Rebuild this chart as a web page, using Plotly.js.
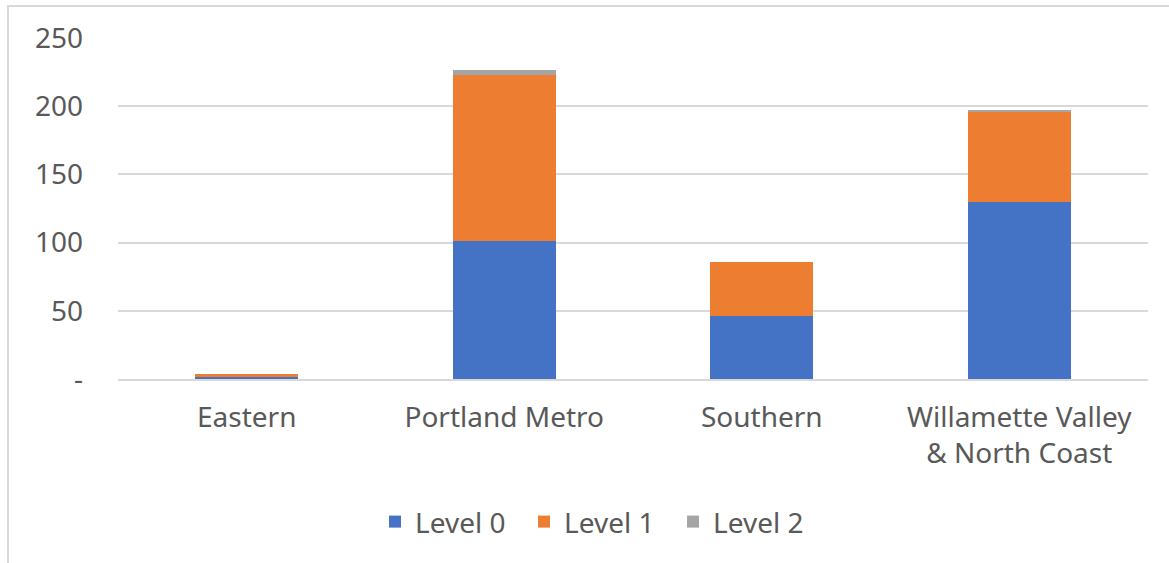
<!DOCTYPE html>
<html>
<head>
<meta charset="utf-8">
<script src="https://cdn.plot.ly/plotly-3.0.1.min.js"></script>
<style>
  html, body { margin: 0; padding: 0; background: #fff; overflow: hidden; }
  #chart { width: 1169px; height: 563px; position: relative; }
  #frame { position: absolute; left: 7px; top: 5px; width: 1170px; height: 600px;
           border-left: 2px solid #d9d9d9; border-top: 2px solid #d9d9d9; pointer-events: none; }
</style>
</head>
<body>
<div id="chart"></div>
<div id="frame"></div>
<script>
const categories = ["Eastern", "Portland Metro", "Southern", "Willamette Valley<br>& North Coast"];
const level0 = [1.5, 101, 46, 130];
const level1 = [2.2, 122, 40, 66];
const level2 = [0, 3.5, 0, 1];
const seriesNames = ["Level 0", "Level 1", "Level 2"];
const colors = ["#4472c4", "#ed7d31", "#a5a5a5"];
const yTicks = [0, 50, 100, 150, 200, 250];
const yTickText = ["-", "50", "100", "150", "200", "250"];

const font = "Noto Sans, sans-serif";
const fs = 28;
const traces = [level0, level1, level2].map((vals, i) => ({
  type: "bar",
  name: seriesNames[i],
  x: categories,
  y: vals,
  marker: { color: colors[i], line: { width: 0 } },
  hoverinfo: "skip"
}));

const layout = {
  width: 1169, height: 563,
  barmode: "stack",
  bargap: 0.6,
  margin: { l: 118, r: 21, t: 38, b: 184, autoexpand: false },
  paper_bgcolor: "#fff",
  plot_bgcolor: "#fff",
  font: { family: font, color: "#595959", size: fs },
  xaxis: {
    type: "category", automargin: false,
    showline: true, linecolor: "#d9d9d9", linewidth: 2,
    ticks: "", showgrid: false,
    ticklabelstandoff: 12,
    tickfont: { family: font, size: fs, color: "#595959" }
  },
  yaxis: {
    range: [0, 250], automargin: false,
    tickvals: yTicks, ticktext: yTickText,
    showgrid: true, gridcolor: "#d9d9d9", gridwidth: 2,
    zeroline: false, showline: false, ticks: "",
    ticklabelstandoff: 34,
    tickfont: { family: font, size: fs, color: "#595959" }
  },
  legend: {
    orientation: "h", xref: "container", x: 0.512, xanchor: "center",
    yref: "container", y: 0.073, yanchor: "middle",
    font: { family: font, size: fs, color: "#595959" },
    traceorder: "normal", itemwidth: 30,
    entrywidth: 104, entrywidthmode: "pixels"
  },
  showlegend: true
};

Plotly.newPlot("chart", traces, layout, { staticPlot: true, displayModeBar: false });
</script>
</body>
</html>
